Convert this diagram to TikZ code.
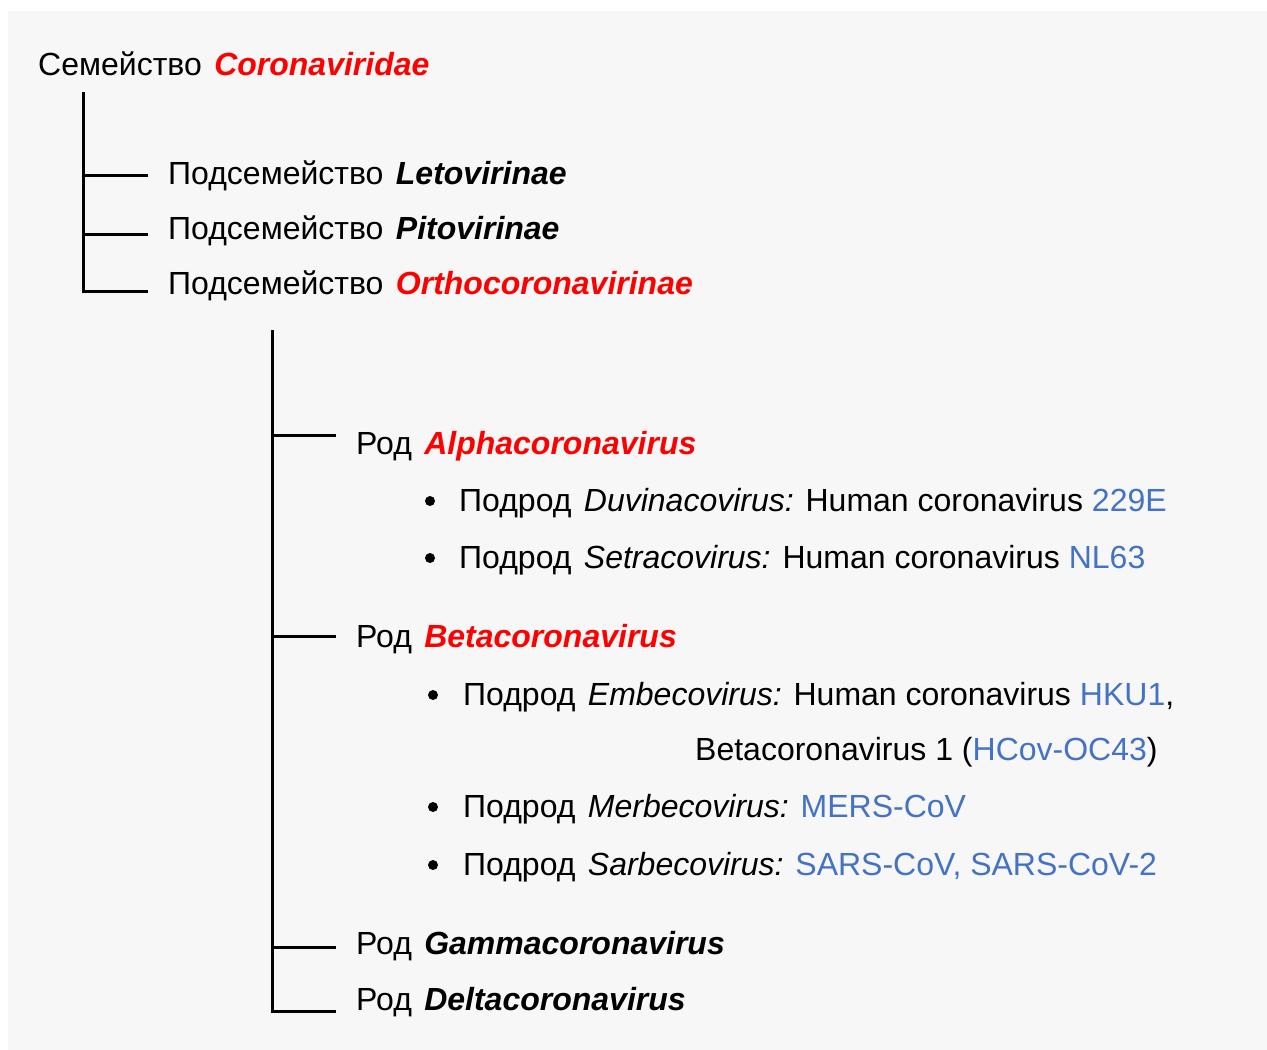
\documentclass[tikz,border=0pt]{standalone}
\usepackage{fontspec}
\setmainfont{Liberation Sans}
\definecolor{taxred}{HTML}{FF0000}
\definecolor{strainblue}{HTML}{4472C4}
\definecolor{panelgray}{HTML}{F7F7F7}
\newcommand{\redtaxon}[1]{\hspace{3.5pt}\textcolor{taxred}{\bfseries\itshape #1}}
\newcommand{\blacktaxon}[1]{\hspace{3.5pt}{\bfseries\itshape #1}}
\newcommand{\subgenus}[1]{\hspace{3.5pt}{\itshape #1}}
\newcommand{\strainname}[1]{\textcolor{strainblue}{#1}}
\tikzset{
  branch/.style={line width=3pt, line join=miter},
  label/.style={anchor=base west, inner sep=0pt, font=\fontsize{32}{38}\selectfont},
  dot/.style={circle, fill, inner sep=0pt, minimum size=10pt}
}
\begin{document}
\begin{tikzpicture}[x=1pt,y=-1pt]

\useasboundingbox (0,0) rectangle (1267,1050);
\fill[white] (0,0) rectangle (1267,1050);
\fill[panelgray] (8,11) rectangle (1267,1050);

\begin{scope}[every node/.style={label}]
\node(fam) at(38,75) {Семейство \redtaxon{Coronaviridae}};
\node(leto) at(168,184) {Подсемейство \blacktaxon{Letovirinae}};
\node(pito) at(168,239) {Подсемейство \blacktaxon{Pitovirinae}};
\node(ortho) at(168,294) {Подсемейство \redtaxon{Orthocoronavirinae}};
\end{scope}

\coordinate(famroot) at(83,92);
\coordinate(orthoroot) at(272,330);

\begin{scope}[every node/.style={label}]
\node(alpha) at(356,454) {Род \redtaxon{Alphacoronavirus}};
\node(duvina) at(459,511) {Подрод \subgenus{Duvinacovirus:} Human coronavirus \strainname{229E}};
\node(setra) at(459,568) {Подрод \subgenus{Setracovirus:} Human coronavirus \strainname{NL63}};
\node(beta) at(356,647) {Род \redtaxon{Betacoronavirus}};
\node(embeco) at(463,705) {Подрод \subgenus{Embecovirus:} Human coronavirus \strainname{HKU1},};
\node(embeco2) at(695,760) {Betacoronavirus 1 (\strainname{HCov-OC43})};
\node(merbeco) at(463,817) {Подрод \subgenus{Merbecovirus:} \strainname{MERS-CoV}};
\node(sarbeco) at(463,875) {Подрод \subgenus{Sarbecovirus:} \strainname{SARS-CoV, SARS-CoV-2}};
\node(gamma) at(356,954) {Род \blacktaxon{Gammacoronavirus}};
\node(delta) at(356,1010) {Род \blacktaxon{Deltacoronavirus}};
\end{scope}

\begin{scope}[every node/.style={dot}]
\node(bduvina) at(430,501) {};
\node(bsetra) at(430,558) {};
\node(bembeco) at(433,695) {};
\node(bmerbeco) at(433,807) {};
\node(bsarbeco) at(433,865) {};
\end{scope}

\draw[branch]
(famroot) -- ([yshift=-6pt]famroot |- ortho.west) --
([xshift=-20pt,yshift=-6pt]ortho.west)
;
\draw[branch] (famroot |- leto.west) -- ([xshift=-20pt]leto.west);
\draw[branch] ([yshift=-4pt]famroot |- pito.west) -- ([xshift=-20pt,yshift=-4pt]pito.west);

\draw[branch]
(orthoroot) -- ([yshift=-10pt]orthoroot |- delta.west) --
([xshift=-20pt,yshift=-10pt]delta.west)
;
\draw[branch] ([yshift=10pt]orthoroot |- alpha.west) -- ([xshift=-20pt,yshift=10pt]alpha.west);
\draw[branch] ([yshift=2pt]orthoroot |- beta.west) -- ([xshift=-20pt,yshift=2pt]beta.west);
\draw[branch] ([yshift=-2pt]orthoroot |- gamma.west) -- ([xshift=-20pt,yshift=-2pt]gamma.west);

\end{tikzpicture}
\end{document}
